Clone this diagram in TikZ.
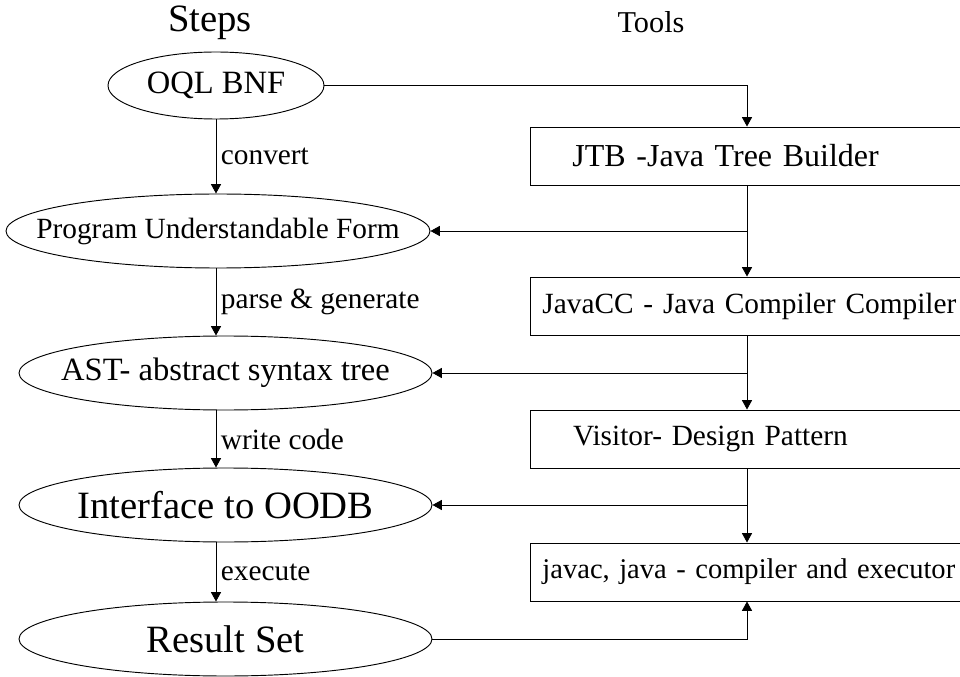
\documentclass[tikz,border=0pt]{standalone}
\usepackage{fontspec}
\setmainfont{Liberation Serif}
\usetikzlibrary{shapes.geometric,arrows.meta}
\tikzset{
  stepshape/.style={ellipse, draw, line width=0.7pt, inner sep=0pt},
  toolrect/.style={rectangle, draw, line width=0.7pt, anchor=west, minimum height=43.5pt, inner ysep=0pt, align=left, font=\fontsize{22}{26}\selectfont},
  flow/.style={-{Triangle[length=7pt,width=7.5pt]}, line width=0.7pt},
  steplabel/.style={font=\fontsize{22}{26}\selectfont}
}
\newcommand{\stepellipse}[4] {\node at (#1) (#2) [stepshape, #3] {\makebox[0pt]{#4}};}
\newcommand{\toolbox}[4] {\node at (#1) (#2) [toolrect, #3] {#4};}
\newcommand{\steptransition}[3] {\draw [flow] (#1) -- (#2) node [midway, right, steplabel] {#3};}
\newcommand{\tooltransition}[2] {\draw [flow] (#1) -- (#2);}

\begin{document}
\begin{tikzpicture}[x=0.75pt, y=-0.75pt]

\useasboundingbox (0,0) rectangle (960,677);
\clip (0,0) rectangle (960,677);

\node at (210,32) (steps) [anchor=base, font=\fontsize{29}{34}\selectfont] {Steps};
\node at (651,33) (tools) [anchor=base, font=\fontsize{22.7}{27}\selectfont] {Tools};

\stepellipse{216,85.5}{bnf}{minimum width=162pt, minimum height=50.25pt, font=\fontsize{24.4}{29}\selectfont}{OQL BNF}
\stepellipse{218,231}{puf}{minimum width=318pt, minimum height=55.5pt, font=\fontsize{22}{26}\selectfont}{Program Understandable Form}
\stepellipse{225.5,373}{ast}{minimum width=309.75pt, minimum height=55.5pt, font=\fontsize{24.4}{29}\selectfont}{AST- abstract syntax tree}
\stepellipse{225.5,505}{iface}{minimum width=309.75pt, minimum height=55.5pt, font=\fontsize{29}{34}\selectfont}{Interface to OODB}
\stepellipse{225.5,639}{result}{minimum width=309.75pt, minimum height=55.5pt, font=\fontsize{29}{34}\selectfont}{Result Set}

\toolbox{530,156}{jtb}{inner xsep=31.5pt, text width=312pt, font=\fontsize{24}{29}\selectfont}{JTB -Java Tree Builder}
\toolbox{530,306}{javacc}{inner xsep=9pt, text width=357pt}{JavaCC - Java Compiler Compiler}
\toolbox{530,439}{visitor}{inner xsep=32pt, text width=311pt}{Visitor- Design Pattern}
\toolbox{530,572}{javac}{inner xsep=9pt, text width=357pt, font=\fontsize{21.4}{26}\selectfont}{javac, java - compiler and executor}
\coordinate (bus) at (747,0);

\steptransition{bnf.south}{bnf.south |- puf.north}{convert}
\steptransition{bnf.south |- puf.south}{bnf.south |- ast.north}{parse \& generate}
\steptransition{bnf.south |- ast.south}{bnf.south |- iface.north}{write code}
\steptransition{bnf.south |- iface.south}{bnf.south |- result.north}{execute}

\draw [flow] (bnf.east) -| (bus |- jtb.north);
\tooltransition{bus |- jtb.south}{bus |- javacc.north}
\tooltransition{bus |- javacc.south}{bus |- visitor.north}
\tooltransition{bus |- visitor.south}{bus |- javac.north}
\tooltransition{bus |- puf.east}{puf.east}
\tooltransition{bus |- ast.east}{ast.east}
\tooltransition{bus |- iface.east}{iface.east}
\draw [flow] (result.east) -| (bus |- javac.south);

\end{tikzpicture}
\end{document}
